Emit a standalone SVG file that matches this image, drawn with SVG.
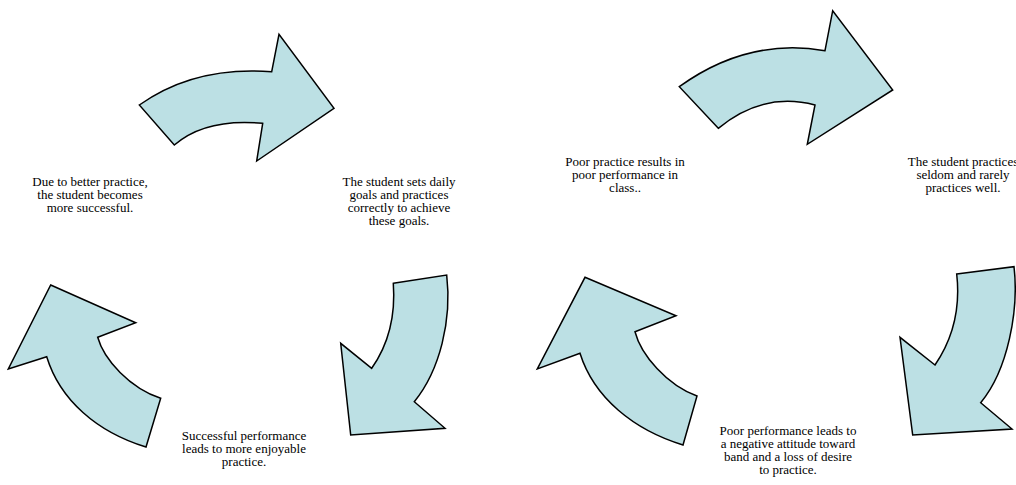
<svg xmlns="http://www.w3.org/2000/svg" width="1016" height="485" viewBox="0 0 1016 485">
<style>
.arr{fill:#bce0e4;stroke:#000;stroke-width:1.5;stroke-linejoin:miter}
.lbl{font-family:"Liberation Serif","Times New Roman",serif;font-size:13px;fill:#000;text-anchor:middle}
</style>
<rect width="1016" height="485" fill="#fff"/>
<g id="connectors">
<path id="arrow-top-left" class="arr" d="M139.3,105 Q194.5,65.7 271.7,71.7 L279,34.3 L334,108.3 L256.7,161 L262.7,123.3 Q205.5,117.9 174.3,145 Z"/>
<path id="arrow-right-left" class="arr" d="M393.3,283.3 L446.7,275 C452,320 440,370 414.3,401.7 L445,428.3 L350.7,435 L340.7,343.3 L371.7,368.3 C386,348 396,320 393.3,283.3 Z"/>
<path id="arrow-left-left" class="arr" d="M50.7,285 L135.7,322.7 L97.7,337.3 C104,360 130,388 160.7,398.3 L146,447 C97,432 60,400 46.7,356.7 L8.3,369 Z"/>
<path id="arrow-top-right" class="arr" d="M679.3,86.7 Q747.8,37.3 825,50.7 L832.7,10.7 L892.7,90 L807.3,144.3 L815,105 Q763.3,91.3 718.3,128.3 Z"/>
<path id="arrow-right-right" class="arr" d="M956.7,274 L1014,266.7 C1019,310 1008,370 980.7,402.7 L1012,429 L912.7,435 L900,337.3 L935,365 C950,343 961,312 956.7,274 Z"/>
<path id="arrow-left-right" class="arr" d="M585,277.3 L676,315.7 L635,331.7 C641,355 667,385 697,396 L683,445 C634,430 594,398 580,353.3 L537.3,369 Z"/>
</g>
<g id="node-better-practice">
<text class="lbl" x="90" y="186">Due to better practice,</text>
<text class="lbl" x="90" y="199">the student becomes</text>
<text class="lbl" x="90" y="212">more successful.</text>
</g>
<g id="node-daily-goals">
<text class="lbl" x="399" y="185.5">The student sets daily</text>
<text class="lbl" x="399" y="198.5">goals and practices</text>
<text class="lbl" x="399" y="211.5">correctly to achieve</text>
<text class="lbl" x="399" y="224.5">these goals.</text>
</g>
<g id="node-successful-performance">
<text class="lbl" x="244" y="440">Successful performance</text>
<text class="lbl" x="244" y="453">leads to more enjoyable</text>
<text class="lbl" x="244" y="466">practice.</text>
</g>
<g id="node-poor-practice">
<text class="lbl" x="625" y="165.5">Poor practice results in</text>
<text class="lbl" x="625" y="178.5">poor performance in</text>
<text class="lbl" x="625" y="191.5">class..</text>
</g>
<g id="node-seldom">
<text class="lbl" x="963" y="165.5">The student practices</text>
<text class="lbl" x="963" y="178.5">seldom and rarely</text>
<text class="lbl" x="963" y="191.5">practices well.</text>
</g>
<g id="node-negative-attitude">
<text class="lbl" x="788" y="434.5">Poor performance leads to</text>
<text class="lbl" x="788" y="447.5">a negative attitude toward</text>
<text class="lbl" x="788" y="460.5">band and a loss of desire</text>
<text class="lbl" x="788" y="473.5">to practice.</text>
</g>
</svg>
